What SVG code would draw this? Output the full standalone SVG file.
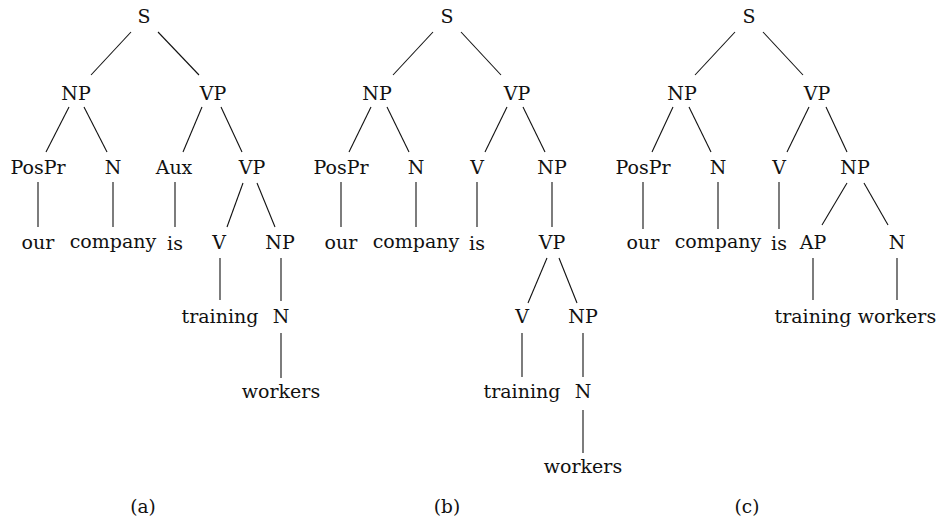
<svg xmlns="http://www.w3.org/2000/svg" width="936" height="523" viewBox="0 0 936 523">
<style>
text{font-family:'DejaVu Serif','Times New Roman',Times,serif;font-size:19px;fill:#111;text-anchor:middle}
text.cap{font-size:18.5px}
line{stroke:#111;stroke-width:1.1}
</style>
<rect width="936" height="523" fill="#fff"/>
<g id="connectors">
<line x1="131" y1="32" x2="91" y2="75"/><line x1="158" y1="32" x2="199" y2="75"/>
<line x1="69" y1="107" x2="46" y2="152"/><line x1="84" y1="107" x2="107" y2="152"/>
<line x1="202" y1="107" x2="183" y2="152"/><line x1="221" y1="107" x2="242" y2="152"/>
<line x1="38" y1="182" x2="38" y2="227"/><line x1="113" y1="182" x2="113" y2="227"/>
<line x1="175" y1="182" x2="175" y2="227"/>
<line x1="243" y1="183" x2="227" y2="227"/><line x1="257" y1="183" x2="275" y2="227"/>
<line x1="220" y1="258" x2="220" y2="300"/><line x1="281" y1="258" x2="281" y2="301"/>
<line x1="281" y1="333" x2="281" y2="378"/>

<line x1="433" y1="32" x2="393" y2="75"/><line x1="461" y1="32" x2="501" y2="75"/>
<line x1="371" y1="107" x2="349" y2="152"/><line x1="387" y1="107" x2="409" y2="152"/>
<line x1="507" y1="107" x2="485" y2="152"/><line x1="523" y1="107" x2="545" y2="152"/>
<line x1="341" y1="182" x2="341" y2="227"/><line x1="416" y1="182" x2="416" y2="227"/>
<line x1="477" y1="182" x2="477" y2="227"/><line x1="552" y1="182" x2="552" y2="227"/>
<line x1="547" y1="258" x2="528" y2="303"/><line x1="559" y1="258" x2="577" y2="303"/>
<line x1="522" y1="333" x2="522" y2="377"/><line x1="583" y1="333" x2="583" y2="377"/>
<line x1="583" y1="410" x2="583" y2="453"/>

<line x1="735" y1="32" x2="695" y2="75"/><line x1="763" y1="32" x2="803" y2="75"/>
<line x1="673" y1="107" x2="652" y2="152"/><line x1="689" y1="107" x2="711" y2="152"/>
<line x1="809" y1="107" x2="787" y2="152"/><line x1="826" y1="107" x2="847" y2="152"/>
<line x1="643" y1="182" x2="643" y2="229"/><line x1="718" y1="182" x2="718" y2="229"/>
<line x1="779" y1="182" x2="779" y2="229"/>
<line x1="847" y1="183" x2="822" y2="225"/><line x1="864" y1="183" x2="888" y2="225"/>
<line x1="813" y1="258" x2="813" y2="300"/><line x1="897" y1="258" x2="897" y2="300"/>
</g>

<g id="tree-a">
<g id="a-S"><text x="144" y="23">S</text></g>
<g id="a-NP"><text x="76" y="100">NP</text></g>
<g id="a-VP"><text x="213" y="100">VP</text></g>
<g id="a-PosPr"><text x="38" y="174">PosPr</text></g>
<g id="a-N"><text x="113" y="174">N</text></g>
<g id="a-Aux"><text x="174" y="174">Aux</text></g>
<g id="a-VP2"><text x="252" y="174">VP</text></g>
<g id="a-our"><text x="38" y="249">our</text></g>
<g id="a-company"><text x="113" y="248">company</text></g>
<g id="a-is"><text x="175" y="250">is</text></g>
<g id="a-V"><text x="219" y="249">V</text></g>
<g id="a-NP2"><text x="280" y="249">NP</text></g>
<g id="a-training"><text x="220" y="323">training</text></g>
<g id="a-N2"><text x="281" y="323">N</text></g>
<g id="a-workers"><text x="281" y="398">workers</text></g>
<g id="a-label"><text class="cap" x="143" y="513">(a)</text></g>
</g>

<g id="tree-b">
<g id="b-S"><text x="447" y="23">S</text></g>
<g id="b-NP"><text x="377" y="100">NP</text></g>
<g id="b-VP"><text x="517" y="100">VP</text></g>
<g id="b-PosPr"><text x="341" y="174">PosPr</text></g>
<g id="b-N"><text x="416" y="174">N</text></g>
<g id="b-V"><text x="477" y="174">V</text></g>
<g id="b-NP2"><text x="552" y="174">NP</text></g>
<g id="b-our"><text x="341" y="249">our</text></g>
<g id="b-company"><text x="416" y="248">company</text></g>
<g id="b-is"><text x="477" y="250">is</text></g>
<g id="b-VP2"><text x="552" y="249">VP</text></g>
<g id="b-V2"><text x="522" y="323">V</text></g>
<g id="b-NP3"><text x="583" y="323">NP</text></g>
<g id="b-training"><text x="522" y="398">training</text></g>
<g id="b-N2"><text x="583" y="398">N</text></g>
<g id="b-workers"><text x="583" y="473">workers</text></g>
<g id="b-label"><text class="cap" x="447" y="513">(b)</text></g>
</g>

<g id="tree-c">
<g id="c-S"><text x="749" y="23">S</text></g>
<g id="c-NP"><text x="682" y="100">NP</text></g>
<g id="c-VP"><text x="817" y="100">VP</text></g>
<g id="c-PosPr"><text x="643" y="174">PosPr</text></g>
<g id="c-N"><text x="718" y="174">N</text></g>
<g id="c-V"><text x="779" y="174">V</text></g>
<g id="c-NP2"><text x="855" y="174">NP</text></g>
<g id="c-our"><text x="643" y="249">our</text></g>
<g id="c-company"><text x="718" y="248">company</text></g>
<g id="c-is"><text x="779" y="250">is</text></g>
<g id="c-AP"><text x="813" y="249">AP</text></g>
<g id="c-N2"><text x="897" y="249">N</text></g>
<g id="c-training"><text x="813" y="323">training</text></g>
<g id="c-workers"><text x="897" y="323">workers</text></g>
<g id="c-label"><text class="cap" x="747" y="513">(c)</text></g>
</g>
</svg>
